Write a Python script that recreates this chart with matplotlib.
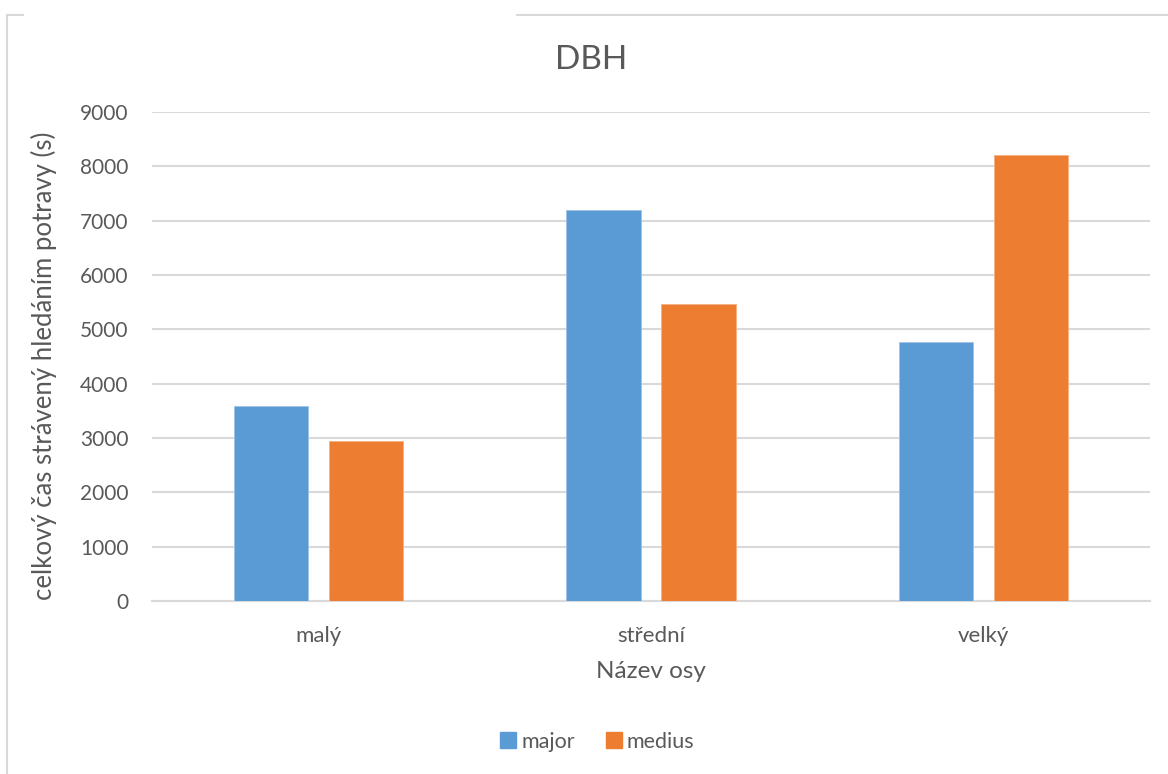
import numpy as np
import matplotlib.pyplot as plt
from matplotlib.lines import Line2D

categories = ["malý", "střední", "velký"]
major = [3580, 7190, 4760]
medius = [2945, 5470, 8215]
series_names = ["major", "medius"]
yticks = [0, 1000, 2000, 3000, 4000, 5000, 6000, 7000, 8000, 9000]

text_color = "#595959"
grid_color = "#d9d9d9"
blue = "#5b9bd5"
orange = "#ed7d31"

plt.rcParams['font.family'] = ['Lato', 'DejaVu Sans']

fig = plt.figure(figsize=(11.68, 7.74), dpi=100)
ax = fig.add_axes([152 / 1168, 1 - 601 / 774, 998 / 1168, 489 / 774])

x = np.arange(len(categories))
width = 0.2225
offset = 0.1428
ax.bar(x - offset, major, width, color=blue, edgecolor="#9dc3e6", linewidth=0.6, label=series_names[0], zorder=3)
ax.bar(x + offset, medius, width, color=orange, edgecolor="#f4b183", linewidth=0.6, label=series_names[1], zorder=3)

ax.set_xlim(-0.5, len(categories) - 0.5)
ax.set_ylim(0, 9000)
ax.set_yticks(yticks)
ax.set_xticks(x)
ax.set_xticklabels(categories)
ax.yaxis.grid(True, color=grid_color, linewidth=1.5, zorder=0)
ax.set_axisbelow(True)
for side in ["top", "right", "left"]:
    ax.spines[side].set_visible(False)
ax.spines["bottom"].set_color(grid_color)
ax.spines["bottom"].set_linewidth(1.5)
ax.tick_params(axis="both", length=0, colors=text_color)
ax.tick_params(axis="y", pad=17, labelsize=15)
ax.tick_params(axis="x", pad=18, labelsize=16)

fig.text(651 / 1168, 1 - 672 / 774, "Název osy", ha="center", va="center", fontsize=17.5, color=text_color)
fig.text(44 / 1168, 1 - 366 / 774, "celkový čas strávený hledáním potravy (s)",
         rotation=90, ha="center", va="center", fontsize=18.5, color=text_color)
fig.text(591 / 1168, 1 - 60 / 774, "DBH", ha="center", va="center", fontsize=24, color=text_color)

handles = [Line2D([], [], marker="s", linestyle="", markersize=11, color=blue),
           Line2D([], [], marker="s", linestyle="", markersize=11, color=orange)]
fig.legend(handles, series_names, loc="center", bbox_to_anchor=(596 / 1168, 1 - 742 / 774),
           ncol=2, frameon=False, fontsize=15.5, labelcolor=text_color,
           handletextpad=0.1, columnspacing=1.3, handlelength=1.0)

# chart frame lines
border = "#d9d9d9"
fig.add_artist(Line2D([7 / 1168, 7 / 1168], [0, 1 - 15 / 774], color=border, linewidth=1.5))
fig.add_artist(Line2D([7 / 1168, 23 / 1168], [1 - 15 / 774, 1 - 15 / 774], color=border, linewidth=1.5))
fig.add_artist(Line2D([517 / 1168, 1], [1 - 15 / 774, 1 - 15 / 774], color=border, linewidth=1.5))

fig.savefig("out.png", dpi=100)
